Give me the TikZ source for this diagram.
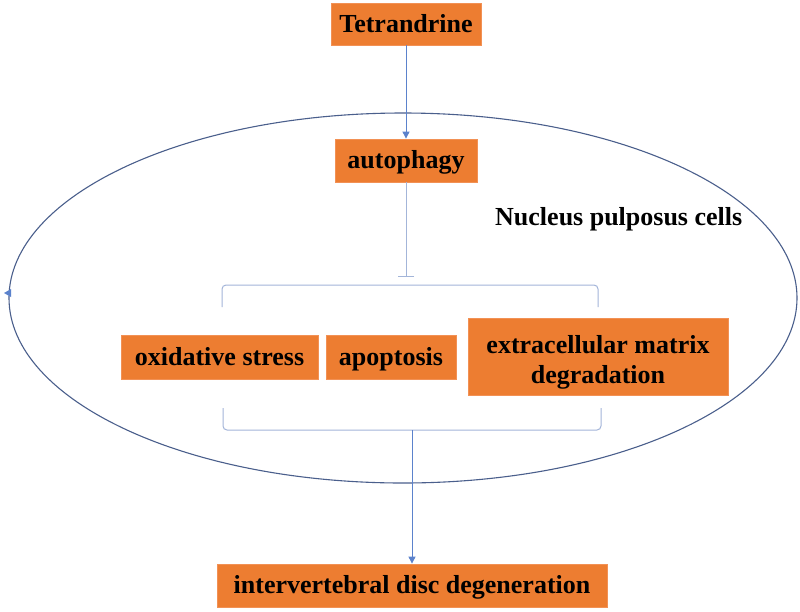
\documentclass[tikz,border=0pt]{standalone}
\usepackage{fontspec}
\setmainfont{Liberation Serif}
\usetikzlibrary{arrows.meta}
\definecolor{boxor}{HTML}{ED7D31}
\definecolor{boxedge}{HTML}{F29155}
\definecolor{arrblue}{HTML}{5B82CC}
\definecolor{brk}{HTML}{A3B5D9}
\definecolor{ell}{HTML}{4A5F8C}
\begin{document}
\begin{tikzpicture}[x=1pt,y=-1pt,
  lbl/.style={font=\bfseries\fontsize{26}{30}\selectfont,text=black},
  box/.style={lbl,fill=boxor,draw=boxedge,line width=0.8pt,inner sep=0pt},
  onel/.style={text height=19pt,text depth=3pt},
  arr/.style={draw=arrblue,line width=0.9pt,-{Triangle[length=7pt,width=7pt]}},
  brack/.style={draw=brk,line width=1pt,rounded corners=4pt}]
\useasboundingbox (0,0) rectangle (800,611);
\fill[white] (0,0) rectangle (800,611);
% cell membrane
\draw[ell,line width=1.1pt] (403,298) ellipse [x radius=394,y radius=185];
\fill[arrblue] (4,293) -- (11,289) -- (11,297) -- cycle;
% boxes
\node[box,onel,minimum width=150,minimum height=42] (tet) at (406,24) {Tetrandrine};
\node[box,onel,minimum width=142,minimum height=43] (aut) at (406,160.5) {autophagy};
\node[lbl,anchor=base west,inner sep=0pt] (npc) at (495,225) {Nucleus pulposus cells};
\node[box,onel,minimum width=197,minimum height=44] (ox) at (219.5,357) {oxidative stress};
\node[box,onel,minimum width=130,minimum height=44] (apo) at (391,357) {apoptosis};
\node[box,minimum width=260,minimum height=77] (ecm) at (598,356.5) {};
\node[lbl,align=center,inner sep=0pt] (ecmt) at ([yshift=-6pt]ecm.center) {extracellular matrix\\degradation};
\node[box,onel,minimum width=390,minimum height=43] (idd) at (412,585.5) {intervertebral disc degeneration};
% connectors
\draw[arr] (tet) -- (aut);
\coordinate (inh) at (406,277);
\draw[draw=brk,line width=1pt,-{Bar[width=16pt,line width=1pt]}] (aut.south) -- (inh);
\draw[brack] (222,307) -- (222,285) -- (598,285) -- (598,307);
\draw[brack] (223,408) -- (223,430) -- (601,430) -- (601,408);
\coordinate (bot) at (412,430);
\draw[arr] (bot) -- (idd.north);
\end{tikzpicture}
\end{document}
